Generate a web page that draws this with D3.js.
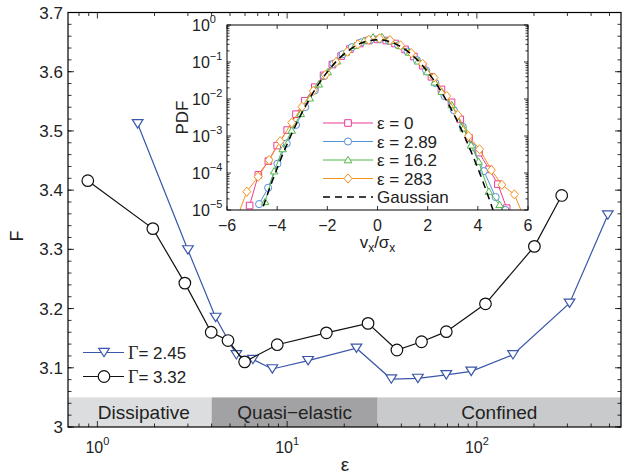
<!DOCTYPE html>
<html>
<head>
<meta charset="utf-8">
<script src="https://cdn.jsdelivr.net/npm/d3@7"></script>
<style>
  body { margin: 0; background: #fff; }
  svg { display: block; font-family: "Liberation Sans", Arial, sans-serif; }
</style>
</head>
<body>
<div id="wrapper"></div>
<script>
// ---- data ----
const bandNames = ["Dissipative", "Quasi\u2212elastic", "Confined"];
const bandEdges = [0.7, 4, 30, 575];
const bandColors = ["#dcdddf", "#a2a2a4", "#c9cacc"];

// Gamma = 2.45 (blue triangles)
const epsA = [1.63, 3.0, 4.2, 5.4, 6.6, 8.36, 12.9, 23.2, 35.4, 48.9, 69, 93.4, 155, 308, 490];
const fA = [3.512, 3.299, 3.185, 3.122, 3.114, 3.098, 3.112, 3.133, 3.081, 3.082, 3.088, 3.094, 3.122, 3.209, 3.358];
// Gamma = 3.32 (black circles)
const epsB = [0.89, 1.96, 2.89, 3.98, 4.88, 5.97, 8.87, 16.1, 26.7, 37.9, 51.1, 69, 111, 201, 280];
const fB = [3.416, 3.335, 3.243, 3.160, 3.146, 3.110, 3.139, 3.159, 3.175, 3.130, 3.144, 3.161, 3.208, 3.305, 3.391];
const mainLabels = ["\u0393", "\u0393"];
const mainValues = ["= 2.45", "= 3.32"];

const xTicksMain = [1, 10, 100];
const xTickExp = ["0", "1", "2"];

// inset: v_x / sigma_x and log10(PDF)
const vx0 = [-5.1, -4.75, -4.35, -4.0, -3.6, -3.25, -2.9, -2.5, -2.15, -1.8, -1.45, -1.1, -0.7, -0.35, 0, 0.35, 0.7, 1.1, 1.45, 1.8, 2.15, 2.55, 2.95, 3.3, 3.65, 4.05, 4.45, 4.8, 5.15];
const lp0 = [-4.88, -4.05, -3.68, -3.26, -2.84, -2.41, -2.05, -1.68, -1.36, -1.07, -0.84, -0.65, -0.50, -0.42, -0.39, -0.42, -0.50, -0.66, -0.85, -1.10, -1.40, -1.74, -2.09, -2.55, -3.05, -3.45, -3.90, -4.30, -4.95];
const vx1 = [-4.72, -4.36, -3.99, -3.62, -3.25, -2.88, -2.5, -2.13, -1.76, -1.39, -1.02, -0.65, -0.28, 0.09, 0.46, 0.83, 1.2, 1.57, 1.94, 2.31, 2.67, 3.04, 3.4, 3.78, 4.24, 4.71, 5.1];
const lp1 = [-4.84, -4.40, -3.75, -3.2, -2.7, -2.22, -1.77, -1.38, -1.05, -0.79, -0.60, -0.47, -0.40, -0.38, -0.43, -0.55, -0.72, -0.95, -1.23, -1.57, -1.92, -2.3, -2.75, -3.3, -3.95, -4.65, -5.0];
const vx2 = [-4.48, -4.12, -3.78, -3.42, -3.06, -2.7, -2.34, -1.98, -1.62, -1.26, -0.9, -0.54, -0.18, 0.18, 0.54, 0.9, 1.26, 1.62, 1.98, 2.28, 2.56, 2.96, 3.43, 3.73, 4.03, 4.44, 4.87, 5.2];
const lp2 = [-4.78, -3.95, -3.35, -2.85, -2.40, -1.98, -1.6, -1.27, -0.98, -0.74, -0.56, -0.42, -0.33, -0.32, -0.42, -0.56, -0.74, -0.98, -1.27, -1.55, -1.80, -2.16, -2.79, -3.25, -3.69, -4.5, -4.86, -5.3];
const vx3 = [-5.65, -5.21, -4.76, -4.32, -3.88, -3.42, -3.01, -2.56, -2.08, -1.65, -1.2, -0.78, -0.35, 0.08, 0.5, 0.92, 1.35, 1.8, 2.25, 2.76, 3.2, 3.63, 4.07, 4.54, 4.96, 5.46, 5.9];
const lp3 = [-5.3, -4.505, -4.10, -3.65, -3.14, -2.64, -2.21, -1.78, -1.35, -1.0, -0.72, -0.52, -0.40, -0.36, -0.41, -0.55, -0.76, -1.05, -1.42, -1.92, -2.43, -3.0, -3.36, -3.92, -4.32, -4.58, -5.3];
const vxG = [-5, -4.5, -4, -3.5, -3, -2.5, -2, -1.5, -1, -0.5, 0, 0.5, 1, 1.5, 2, 2.5, 3, 3.5, 4, 4.5, 5];
const lpG = [-5.827, -4.795, -3.873, -3.059, -2.353, -1.756, -1.267, -0.887, -0.616, -0.453, -0.399, -0.453, -0.616, -0.887, -1.267, -1.756, -2.353, -3.059, -3.873, -4.795, -5.827];
const insetLabels = ["\u03b5 = 0", "\u03b5 = 2.89", "\u03b5 = 16.2", "\u03b5 = 283", "Gaussian"];
const insetColors = ["#ee3b97", "#5591d6", "#52b848", "#f7921e"];
const yTickExpInset = ["0", "\u22121", "\u22122", "\u22123", "\u22124", "\u22125"];

// ---- layout ----
const dimensions = {
    width: 624,
    height: 474,
    margin: { top: 12.5, right: 3, bottom: 47, left: 68 },
};
dimensions.boundedWidth = dimensions.width - dimensions.margin.left - dimensions.margin.right;
dimensions.boundedHeight = dimensions.height - dimensions.margin.top - dimensions.margin.bottom;

const svg = d3.select("#wrapper").append("svg")
    .attr("width", dimensions.width)
    .attr("height", dimensions.height);

const bounds = svg.append("g")
    .attr("transform", `translate(${dimensions.margin.left}, ${dimensions.margin.top})`);

const xScale = d3.scaleLog().domain([0.7, 575]).range([0, dimensions.boundedWidth]);
const yScale = d3.scaleLinear().domain([3, 3.7]).range([dimensions.boundedHeight, 0]);

// regime bands
bandNames.forEach((name, i) => {
    const x0 = xScale(bandEdges[i]), x1 = xScale(bandEdges[i + 1]);
    bounds.append("rect")
        .attr("x", x0).attr("width", x1 - x0)
        .attr("y", yScale(3.05)).attr("height", yScale(3) - yScale(3.05))
        .attr("fill", bandColors[i]);
    bounds.append("text")
        .attr("x", (x0 + x1) / 2 + (i === 0 ? 4 : 0))
        .attr("y", (yScale(3.05) + yScale(3)) / 2 + 6.5)
        .attr("text-anchor", "middle")
        .style("font-size", "19px")
        .attr("fill", "#222")
        .text(name);
});

// ticks (inward, mirrored)
const W = dimensions.boundedWidth, H = dimensions.boundedHeight;
const xMinor = xScale.ticks().filter(t => !xTicksMain.includes(t) && t > 0.7);
const yMajor = d3.range(0, 8).map(i => 3 + i * 0.1);
const yMinor = d3.range(0, 36).map(i => 3 + i * 0.02);
const ticks = bounds.append("g").attr("stroke", "#000").attr("stroke-width", 0.8);
[[xTicksMain, 6], [xMinor, 3.5]].forEach(([vals, len]) => {
    vals.forEach(v => {
        const px = xScale(v);
        ticks.append("line").attr("x1", px).attr("x2", px).attr("y1", H).attr("y2", H - len);
        ticks.append("line").attr("x1", px).attr("x2", px).attr("y1", 0).attr("y2", len);
    });
});
[[yMajor, 6], [yMinor, 3.5]].forEach(([vals, len]) => {
    vals.forEach(v => {
        const py = yScale(v);
        ticks.append("line").attr("x1", 0).attr("x2", len).attr("y1", py).attr("y2", py);
        ticks.append("line").attr("x1", W).attr("x2", W - len).attr("y1", py).attr("y2", py);
    });
});

// tick labels
yMajor.forEach(v => {
    bounds.append("text")
        .attr("x", -5).attr("y", yScale(v) + 6)
        .attr("text-anchor", "end")
        .style("font-size", "17px")
        .attr("fill", "#222")
        .text(Math.abs(v - 3) < 1e-9 ? "3" : d3.format(".1f")(v));
});
xTicksMain.forEach((v, i) => {
    const t = bounds.append("text")
        .attr("x", xScale(v)).attr("y", H + 26)
        .attr("text-anchor", "middle")
        .style("font-size", "16px")
        .attr("fill", "#222");
    t.append("tspan").text("10");
    t.append("tspan").attr("dy", -8).style("font-size", "11px").text(xTickExp[i]);
});

// axis labels
svg.append("text")
    .attr("transform", "translate(23, 236) rotate(-90)")
    .attr("text-anchor", "middle")
    .style("font-size", "18px")
    .attr("fill", "#222")
    .text("F");
svg.append("text")
    .attr("x", 345).attr("y", 471)
    .attr("text-anchor", "middle")
    .style("font-size", "19px")
    .attr("fill", "#222")
    .text("\u03b5");

// main series
const blue = "#3a56a8";
const triDown = "M-5.3,-4.2L5.3,-4.2L0,4.2Z";
const seriesA = epsA.map((e, i) => ({ x: e, y: fA[i] }));
const seriesB = epsB.map((e, i) => ({ x: e, y: fB[i] }));
const mainLine = d3.line().x(d => xScale(d.x)).y(d => yScale(d.y));

bounds.append("path").attr("d", mainLine(seriesA))
    .attr("fill", "none").attr("stroke", blue).attr("stroke-width", 1.2);
bounds.selectAll(".tri").data(seriesA).enter().append("path")
    .attr("class", "tri")
    .attr("d", triDown)
    .attr("transform", d => `translate(${xScale(d.x)}, ${yScale(d.y)})`)
    .attr("fill", "#fff").attr("stroke", blue).attr("stroke-width", 1.2);

bounds.append("path").attr("d", mainLine(seriesB))
    .attr("fill", "none").attr("stroke", "#111").attr("stroke-width", 1.2);
bounds.selectAll(".circ").data(seriesB).enter().append("circle")
    .attr("class", "circ")
    .attr("cx", d => xScale(d.x)).attr("cy", d => yScale(d.y)).attr("r", 5.8)
    .attr("fill", "#fff").attr("stroke", "#111").attr("stroke-width", 1.2);

// main legend
const legend = bounds.append("g").attr("transform", "translate(15, 340)");
[blue, "#111"].forEach((c, i) => {
    const row = legend.append("g").attr("transform", `translate(0, ${i * 24})`);
    row.append("line").attr("x1", 0).attr("x2", 41).attr("stroke", c).attr("stroke-width", 1.2);
    if (i === 0) {
        row.append("path").attr("d", triDown).attr("transform", "translate(21, 0)")
            .attr("fill", "#fff").attr("stroke", c).attr("stroke-width", 1.2);
    } else {
        row.append("circle").attr("cx", 21).attr("r", 5.8)
            .attr("fill", "#fff").attr("stroke", c).attr("stroke-width", 1.2);
    }
    const t = row.append("text").attr("x", 45).attr("y", 6)
        .style("font-size", "17px").attr("fill", "#222");
    t.append("tspan").style("font-family", "'Liberation Serif', serif").style("font-size", "18px").text(mainLabels[i]);
    t.append("tspan").text(mainValues[i]);
});

// box
bounds.append("rect").attr("width", W).attr("height", H)
    .attr("fill", "none").attr("stroke", "#000").attr("stroke-width", 1.2);

// ---- inset ----
const inset = { left: 227, top: 25, width: 301, height: 185 };
const ig = svg.append("g").attr("transform", `translate(${inset.left}, ${inset.top})`);
const ix = d3.scaleLinear().domain([-6, 6]).range([0, inset.width]);
const iy = d3.scaleLog().domain([1e-5, 1]).range([inset.height, 0]);

ig.append("rect").attr("width", inset.width).attr("height", inset.height).attr("fill", "#fff");
ig.append("defs").append("clipPath").attr("id", "inset-clip")
    .append("rect").attr("width", inset.width).attr("height", inset.height);

const iTicks = ig.append("g").attr("stroke", "#000").attr("stroke-width", 0.8);
const ixMajor = d3.range(-6, 7, 2);
const iyMajor = [1, 1e-1, 1e-2, 1e-3, 1e-4, 1e-5];
const iyMinor = iy.ticks().filter(t => !iyMajor.some(m => Math.abs(m - t) / m < 1e-6));
ixMajor.forEach(v => {
    iTicks.append("line").attr("x1", ix(v)).attr("x2", ix(v)).attr("y1", inset.height).attr("y2", inset.height - 4);
    iTicks.append("line").attr("x1", ix(v)).attr("x2", ix(v)).attr("y1", 0).attr("y2", 4);
});
[[iyMajor, 4], [iyMinor, 2.5]].forEach(([vals, len]) => {
    vals.forEach(v => {
        iTicks.append("line").attr("x1", 0).attr("x2", len).attr("y1", iy(v)).attr("y2", iy(v));
        iTicks.append("line").attr("x1", inset.width).attr("x2", inset.width - len).attr("y1", iy(v)).attr("y2", iy(v));
    });
});

ixMajor.forEach(v => {
    ig.append("text").attr("x", ix(v)).attr("y", inset.height + 21)
        .attr("text-anchor", "middle").style("font-size", "16px").attr("fill", "#222")
        .text(d3.format("d")(v));
});
iyMajor.forEach((v, i) => {
    const t = ig.append("text").attr("x", -35).attr("y", iy(v) + 6)
        .style("font-size", "16px").attr("fill", "#222");
    t.append("tspan").text("10");
    t.append("tspan").attr("dy", -8).style("font-size", "11px").text(yTickExpInset[i]);
});

// inset data
const plot = ig.append("g").attr("clip-path", "url(#inset-clip)");
const iLine = d3.line().x(d => ix(d.x)).y(d => iy(10 ** d.y));
const insetSeries = [[vx0, lp0], [vx1, lp1], [vx2, lp2], [vx3, lp3]]
    .map(([xs, ls]) => xs.map((x, i) => ({ x: x, y: ls[i] })));

const markerShapes = [
    "M-3.3,-3.3H3.3V3.3H-3.3Z",
    d3.symbol(d3.symbolCircle, 40)(),
    "M0,-3.6L3.8,2.8L-3.8,2.8Z",
    "M0,-4.6L4,0L0,4.6L-4,0Z",
];

insetSeries.forEach((s, k) => {
    plot.append("path").attr("d", iLine(s))
        .attr("fill", "none").attr("stroke", insetColors[k]).attr("stroke-width", 1);
    plot.selectAll(`.m${k}`).data(s).enter().append("path")
        .attr("class", `m${k}`)
        .attr("d", markerShapes[k])
        .attr("transform", d => `translate(${ix(d.x)}, ${iy(10 ** d.y)})`)
        .attr("fill", "#fff").attr("stroke", insetColors[k]).attr("stroke-width", 1);
});
const gauss = vxG.map((x, i) => ({ x: x, y: lpG[i] }));
plot.append("path").attr("d", iLine.curve(d3.curveNatural)(gauss))
    .attr("fill", "none").attr("stroke", "#000").attr("stroke-width", 1.5)
    .attr("stroke-dasharray", "7,5");

// inset legend
const il = ig.append("g").attr("transform", "translate(96, 98)");
insetLabels.forEach((label, k) => {
    const row = il.append("g").attr("transform", `translate(0, ${k * 18.5})`);
    if (k < 4) {
        row.append("line").attr("x1", 0).attr("x2", 50).attr("stroke", insetColors[k]).attr("stroke-width", 1);
        row.append("path").attr("d", markerShapes[k]).attr("transform", "translate(25, 0)")
            .attr("fill", "#fff").attr("stroke", insetColors[k]).attr("stroke-width", 1);
    } else {
        row.append("line").attr("x1", 0).attr("x2", 50).attr("stroke", "#000")
            .attr("stroke-width", 1.5).attr("stroke-dasharray", "7,5");
    }
    row.append("text").attr("x", 54).attr("y", 6)
        .style("font-size", "17px").attr("fill", "#222").text(label);
});

ig.append("rect").attr("width", inset.width).attr("height", inset.height)
    .attr("fill", "none").attr("stroke", "#000").attr("stroke-width", 1);

// inset axis labels
svg.append("text")
    .attr("transform", `translate(188, ${inset.top + inset.height / 2}) rotate(-90)`)
    .attr("text-anchor", "middle").style("font-size", "17px").attr("fill", "#222")
    .text("PDF");
const xl = svg.append("text").attr("x", inset.left + inset.width / 2).attr("y", 248)
    .attr("text-anchor", "middle").style("font-size", "17px").attr("fill", "#222");
xl.append("tspan").text("v");
xl.append("tspan").attr("dy", 4).style("font-size", "12px").text("x");
xl.append("tspan").attr("dy", -4).text("/\u03c3");
xl.append("tspan").attr("dy", 4).style("font-size", "12px").text("x");
</script>
</body>
</html>
